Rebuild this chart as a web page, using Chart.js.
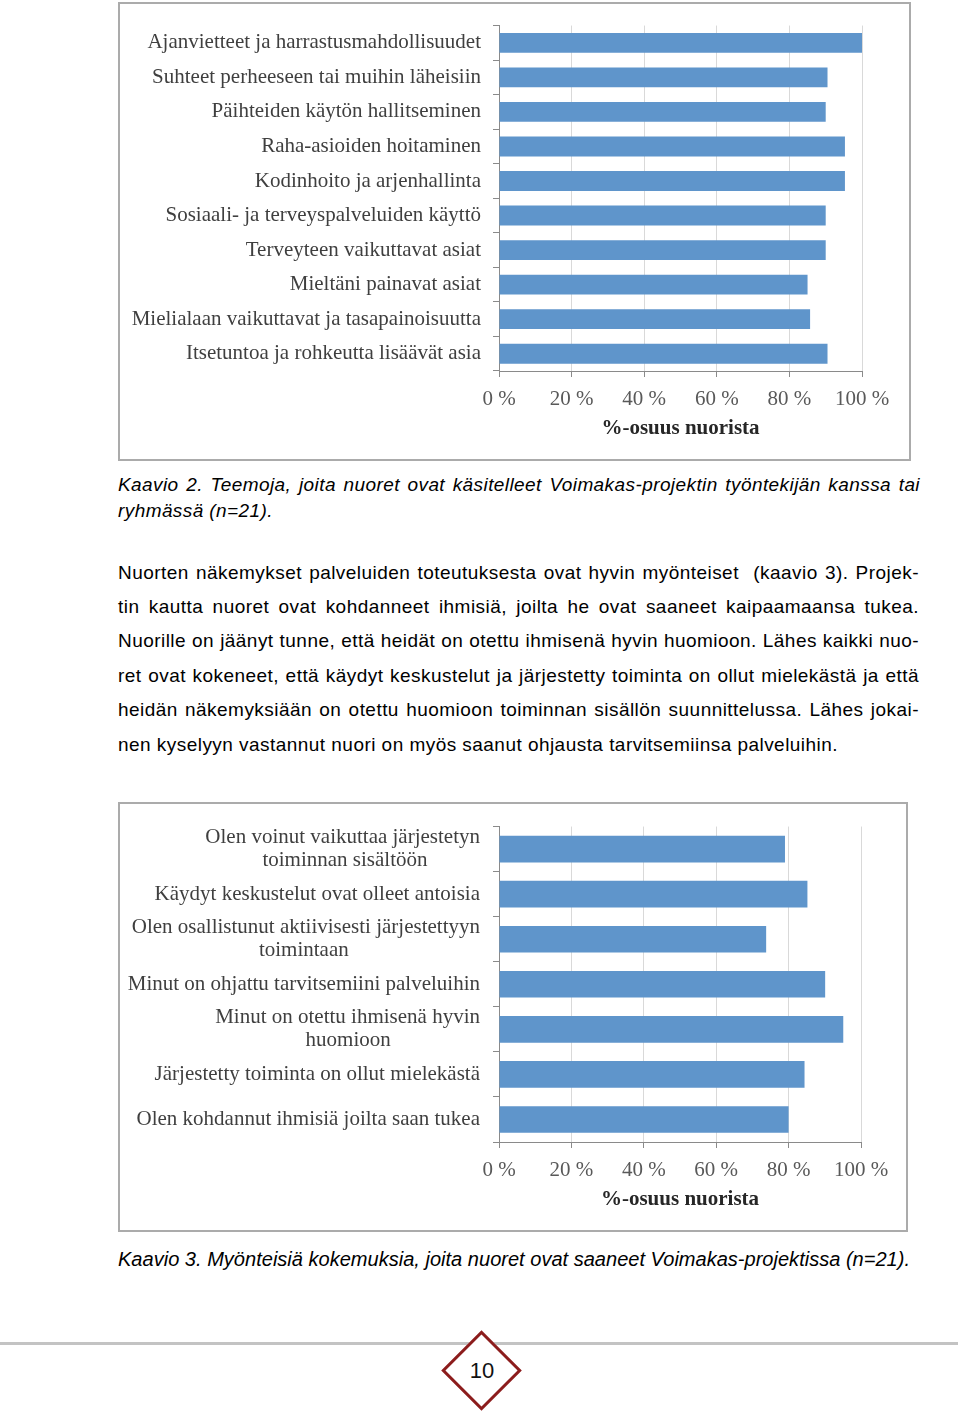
<!DOCTYPE html>
<html><head><meta charset="utf-8">
<script src="https://cdn.jsdelivr.net/npm/chart.js@4.4.1/dist/chart.umd.min.js"></script>
<style>
html,body{margin:0;padding:0;background:#fff;}
body{width:960px;height:1412px;position:relative;overflow:hidden;font-family:"Liberation Sans",Arial,sans-serif;color:#000;}
.frame{position:absolute;box-sizing:border-box;border:2px solid #ababab;background:#fff;}
.cv{position:absolute;}
.line{position:absolute;left:118px;white-space:nowrap;}
.line span{display:inline-block;white-space:pre;}
.cap{font-style:italic;font-size:19px;line-height:26px;}
.txt{font-size:19px;line-height:34px;}
#rule{position:absolute;left:0;top:1342px;width:958px;height:3px;background:#c3c3c3;}
#diamond{position:absolute;left:453px;top:1342px;width:57px;height:57px;box-sizing:border-box;border:3px solid #8c1c1c;background:#fff;transform:rotate(45deg);}
#pnum{position:absolute;left:442px;top:1357px;width:80px;text-align:center;font-size:22px;line-height:28px;color:#111;}
</style></head>
<body>
<div class="frame" style="left:118px;top:2px;width:793px;height:459px;"></div>
<canvas id="c1" class="cv" width="793" height="458" style="left:118px;top:2px;"></canvas>

<div class="line cap" data-w="802" style="top:472px;"><span>Kaavio 2. Teemoja, joita nuoret ovat käsitelleet Voimakas-projektin työntekijän kanssa tai</span></div>
<div class="line cap" id="capref" data-nat="155" style="top:498px;"><span>ryhmässä (n=21).</span></div>

<div class="line txt" data-w="801" style="top:556px;"><span>Nuorten näkemykset palveluiden toteutuksesta ovat hyvin myönteiset  (kaavio 3). Projek-</span></div>
<div class="line txt" data-w="801" style="top:590px;"><span>tin kautta nuoret ovat kohdanneet ihmisiä, joilta he ovat saaneet kaipaamaansa tukea.</span></div>
<div class="line txt" data-w="801" style="top:624px;"><span>Nuorille on jäänyt tunne, että heidät on otettu ihmisenä hyvin huomioon. Lähes kaikki nuo-</span></div>
<div class="line txt" data-w="801" style="top:659px;"><span>ret ovat kokeneet, että käydyt keskustelut ja järjestetty toiminta on ollut mielekästä ja että</span></div>
<div class="line txt" data-w="801" style="top:693px;"><span>heidän näkemyksiään on otettu huomioon toiminnan sisällön suunnittelussa. Lähes jokai-</span></div>
<div class="line txt" id="txtref" data-nat="720" style="top:728px;"><span>nen kyselyyn vastannut nuori on myös saanut ohjausta tarvitsemiinsa palveluihin.</span></div>

<div class="frame" style="left:118px;top:802px;width:790px;height:430px;"></div>
<canvas id="c2" class="cv" width="790" height="429" style="left:118px;top:802px;"></canvas>

<div id="cap2" class="line" style="top:1246px;font-style:italic;font-size:20px;line-height:26px;transform-origin:0 0;"><span>Kaavio 3. Myönteisiä kokemuksia, joita nuoret ovat saaneet Voimakas-projektissa (n=21).</span></div>

<div id="rule"></div>
<div id="diamond"></div>
<div id="pnum">10</div>

<script>
// ---- data ----
const themeCategories = [
  'Ajanvietteet ja harrastusmahdollisuudet',
  'Suhteet perheeseen tai muihin läheisiin',
  'Päihteiden käytön hallitseminen',
  'Raha-asioiden hoitaminen',
  'Kodinhoito ja arjenhallinta',
  'Sosiaali- ja terveyspalveluiden käyttö',
  'Terveyteen vaikuttavat asiat',
  'Mieltäni painavat asiat',
  'Mielialaan vaikuttavat ja tasapainoisuutta',
  'Itsetuntoa ja rohkeutta lisäävät asia'
];
const themeShares = [100, 90.5, 90, 95.3, 95.3, 90, 90, 85, 85.7, 90.5];

const experienceCategories = [
  ['Olen voinut vaikuttaa järjestetyn', 'toiminnan sisältöön'],
  'Käydyt keskustelut ovat olleet antoisia',
  ['Olen osallistunut aktiivisesti järjestettyyn', 'toimintaan'],
  'Minut on ohjattu tarvitsemiini palveluihin',
  ['Minut on otettu ihmisenä hyvin', 'huomioon'],
  'Järjestetty toiminta on ollut mielekästä',
  'Olen kohdannut ihmisiä joilta saan tukea'
];
const experienceShares = [79, 85.2, 73.8, 90.1, 95.1, 84.4, 80];

const shareTicks = ['0 %', '20 %', '40 %', '60 %', '80 %', '100 %'];
const axisTitle = '%-osuus nuorista';

// ---- text layout helpers ----
function fitSpacing(refId, cls) {
  const ref = document.getElementById(refId);
  const sp = ref.querySelector('span');
  const nat = sp.getBoundingClientRect().width;
  const ls = (+ref.dataset.nat - nat) / sp.textContent.length;
  document.querySelectorAll('.' + cls + ' span').forEach(s => { s.style.letterSpacing = ls + 'px'; });
}
fitSpacing('txtref', 'txt');
fitSpacing('capref', 'cap');
document.querySelectorAll('.line[data-w]').forEach(el => {
  const sp = el.querySelector('span');
  const target = +el.dataset.w;
  const nat = sp.getBoundingClientRect().width;
  const gaps = (sp.textContent.match(/ /g) || []).length;
  if (gaps) sp.style.wordSpacing = ((target - nat) / gaps) + 'px';
});
(function(){
  const el = document.getElementById('cap2');
  const w = el.querySelector('span').getBoundingClientRect().width;
  el.style.transform = 'scaleX(' + (792 / w) + ')';
})();

// ---- charts ----
const SERIF = '"Liberation Serif", "Times New Roman", serif';
const measureCtx = document.createElement('canvas').getContext('2d');
function centerLines(lbl) {
  if (!Array.isArray(lbl)) return lbl;
  measureCtx.font = '21px ' + SERIF;
  const widths = lbl.map(l => measureCtx.measureText(l).width);
  const maxW = Math.max(...widths);
  const sp = measureCtx.measureText('\u00a0').width;
  return lbl.map((l, i) => l + '\u00a0'.repeat(Math.round((maxW - widths[i]) / 2 / sp)));
}

function makeChart(id, labels, values, o) {
  return new Chart(document.getElementById(id), {
    type: 'bar',
    data: {
      labels: labels,
      datasets: [{ data: values, backgroundColor: '#5f95cb', borderWidth: 0,
                   barPercentage: o.bar, categoryPercentage: 1 }]
    },
    options: {
      indexAxis: 'y',
      responsive: false,
      animation: false,
      devicePixelRatio: 1,
      layout: { padding: { top: 21, right: o.right, bottom: 0, left: 0 } },
      plugins: { legend: { display: false }, tooltip: { enabled: false } },
      scales: {
        x: {
          min: 0, max: 100,
          ticks: { stepSize: 20, autoSkip: false, maxRotation: 0,
                   callback: (v, i) => shareTicks[i],
                   color: '#595959', font: { family: SERIF, size: 21 }, padding: 10 },
          grid: { color: '#d9d9d9', tickColor: '#8a8a8a', tickLength: 6, lineWidth: 1 },
          border: { color: '#8a8a8a', width: 1 },
          title: { display: true, text: axisTitle, color: '#262626',
                   font: { family: SERIF, size: 21, weight: 'bold' },
                   padding: { top: 0, bottom: 19 } },
          afterFit: s => { s.height = 89; }
        },
        y: {
          ticks: { autoSkip: false, color: '#3f3f3f',
                   font: { family: SERIF, size: 21, lineHeight: 1.1 },
                   padding: o.ypad,
                   callback: function (v) { return centerLines(this.getLabelForValue(v)); } },
          grid: { drawOnChartArea: false, tickColor: '#8a8a8a', tickLength: 6, offset: true },
          border: { color: '#8a8a8a', width: 1 },
          afterFit: s => { s.width = o.yw; }
        }
      }
    }
  });
}

makeChart('c1', themeCategories, themeShares, { bar: 0.575, right: 49, ypad: 12, yw: 381 });
makeChart('c2', experienceCategories, experienceShares, { bar: 0.59, right: 47, ypad: 13, yw: 381 });
</script>
</body></html>
